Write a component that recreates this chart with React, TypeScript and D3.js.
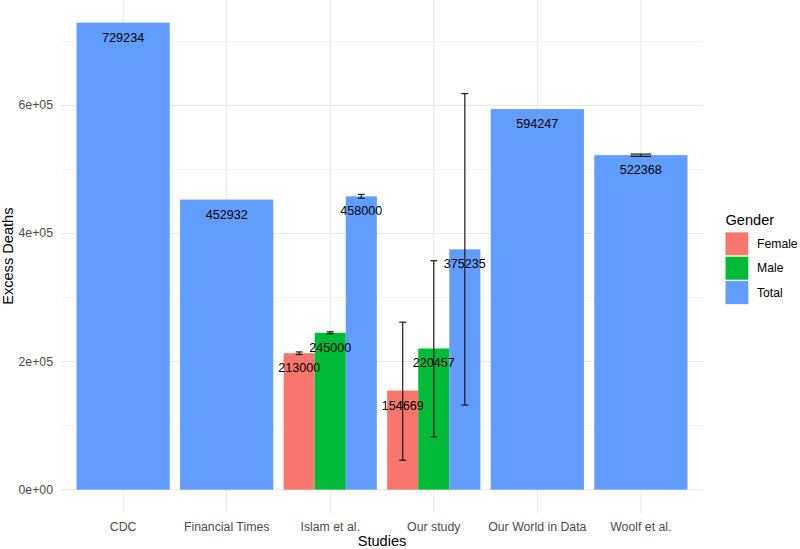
import React from 'react';
import * as d3 from 'd3';

// study / gender / estimate / error range, one row per bar
const studies = ['CDC', 'Financial Times', 'Islam et al.', 'Our study', 'Our World in Data', 'Woolf et al.'];
const genders = ['Female', 'Male', 'Total'];
const genderColors = ['#F8766D', '#00BA38', '#619CFF'];

const rowStudy = ['CDC', 'Financial Times', 'Islam et al.', 'Islam et al.', 'Islam et al.', 'Our study', 'Our study', 'Our study', 'Our World in Data', 'Woolf et al.'];
const rowGender = ['Total', 'Total', 'Female', 'Male', 'Total', 'Female', 'Male', 'Total', 'Total', 'Total'];
const rowValue = [729234, 452932, 213000, 245000, 458000, 154669, 220457, 375235, 594247, 522368];
const rowLower = [null, null, 211000, 243500, 455000, 46000, 82500, 132000, null, 520500];
const rowUpper = [null, null, 215000, 246500, 461000, 261500, 357500, 618500, null, 524000];

const yTicks = [0, 200000, 400000, 600000];
const yMinor = [100000, 300000, 500000, 700000];

const W = 800;
const H = 549;
const panel = { left: 61, right: 703, top: -0.7, bottom: 513 };
const font = 'Liberation Sans, Arial, sans-serif';

const App = () => {
  const x = d3.scalePoint<string>().domain(studies).range([panel.left, panel.right]).padding(0.6);
  const step = x.step();
  const yMax = d3.max(rowValue) as number;
  const pad = yMax * 0.05;
  const y = d3.scaleLinear().domain([-pad, yMax + pad]).range([panel.bottom, panel.top]);
  const color = d3.scaleOrdinal<string, string>().domain(genders).range(genderColors);

  const rows = rowStudy.map((s, i) => ({
    study: s,
    gender: rowGender[i],
    value: rowValue[i],
    lo: rowLower[i],
    hi: rowUpper[i],
  }));

  // dodge inside each study
  const bars = rows.map(r => {
    const group = rows.filter(o => o.study === r.study).map(o => o.gender);
    const inner = d3.scaleBand().domain(group)
      .range([(x(r.study) as number) - step * 0.45, (x(r.study) as number) + step * 0.45]);
    const bx = inner(r.gender) as number;
    const bw = inner.bandwidth();
    return { ...r, bx, bw, cx: bx + bw / 2, capW: (step * 0.2) / group.length };
  });

  const fmt = d3.format('.0e');
  const sci = (v: number) => {
    const s = fmt(v).replace('e+', 'e+0');
    return s;
  };

  return (
    <svg width={W} height={H} style={{ position: 'absolute', left: 0, top: 0, background: '#fff' }}>
      <g>
        {yMinor.map(t => (
          <line key={'mi' + t} x1={panel.left} x2={panel.right} y1={y(t)} y2={y(t)} stroke="#f2f2f2" strokeWidth={0.8} />
        ))}
        {yTicks.map(t => (
          <line key={'ma' + t} x1={panel.left} x2={panel.right} y1={y(t)} y2={y(t)} stroke="#ebebeb" strokeWidth={1.1} />
        ))}
        {studies.map(s => (
          <line key={'gx' + s} x1={x(s)} x2={x(s)} y1={panel.top} y2={panel.bottom} stroke="#ebebeb" strokeWidth={1.1} />
        ))}
      </g>
      <g>
        {bars.map((b, i) => (
          <rect key={'b' + i} x={b.bx} y={y(b.value)} width={b.bw} height={y(0) - y(b.value)} fill={color(b.gender)} />
        ))}
      </g>
      <g stroke="#1a1a1a" strokeWidth={1.2}>
        {bars.filter(b => b.lo != null).map((b, i) => (
          <g key={'e' + i}>
            <line x1={b.cx} x2={b.cx} y1={y(b.lo as number)} y2={y(b.hi as number)} />
            <line x1={b.cx - b.capW / 2} x2={b.cx + b.capW / 2} y1={y(b.lo as number)} y2={y(b.lo as number)} />
            <line x1={b.cx - b.capW / 2} x2={b.cx + b.capW / 2} y1={y(b.hi as number)} y2={y(b.hi as number)} />
          </g>
        ))}
      </g>
      <g fontFamily={font} fontSize={12.6} fill="#000" textAnchor="middle">
        {bars.map((b, i) => (
          <text key={'l' + i} x={b.cx} y={y(b.value) + 15} dominantBaseline="central">{b.value}</text>
        ))}
      </g>
      <g fontFamily={font} fontSize={12.3} fill="#4d4d4d">
        {yTicks.map(t => (
          <text key={'yt' + t} x={53} y={y(t)} textAnchor="end" dominantBaseline="central">{sci(t)}</text>
        ))}
        {studies.map(s => (
          <text key={'xt' + s} x={x(s)} y={527} textAnchor="middle" dominantBaseline="central">{s}</text>
        ))}
      </g>
      <text x={(panel.left + panel.right) / 2} y={541} fontFamily={font} fontSize={14.6} textAnchor="middle" dominantBaseline="central">Studies</text>
      <text transform={`translate(8,${(panel.top + panel.bottom) / 2}) rotate(-90)`} fontFamily={font} fontSize={14.6} textAnchor="middle" dominantBaseline="central">Excess Deaths</text>
      <g fontFamily={font}>
        <text x={725.5} y={219.5} fontSize={14.6} dominantBaseline="central">Gender</text>
        {genders.map((g, i) => (
          <g key={'lg' + g} transform={`translate(725.5,${232.3 + i * 24.4})`}>
            <rect width={22.8} height={23} fill={color(g)} />
            <text x={31.5} y={11.5} fontSize={12.2} dominantBaseline="central">{g}</text>
          </g>
        ))}
      </g>
    </svg>
  );
};

export default App;
